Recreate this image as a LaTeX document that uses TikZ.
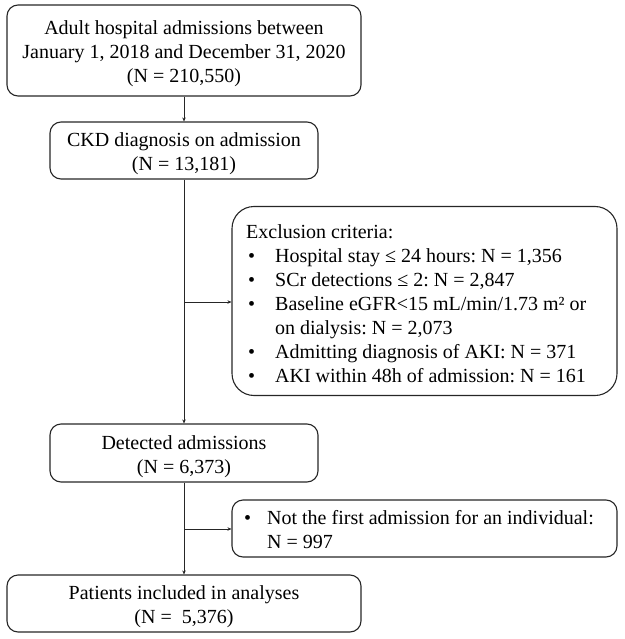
\documentclass[tikz,border=0pt]{standalone}
\usepackage{fontspec}
\setmainfont{Liberation Serif}
\usetikzlibrary{arrows.meta}
\frenchspacing
\newcommand{\bulitem}{\hspace*{2pt}\makebox[27pt][l]{•}}
\newcommand{\contitem}{\hspace*{29pt}}
\newcommand{\boxlines}[2][-3pt]{\raisebox{#1}[\height][\depth]{\begin{tabular}{@{}c@{}}#2\end{tabular}}}
\begin{document}
\begin{tikzpicture}[x=1pt,y=-1pt,
  flowbox/.style={draw=black!85, line width=1.1pt, rounded corners=11pt, inner sep=0pt,
    font=\fontsize{20}{24}\selectfont},
  sidetext/.style={inner sep=0pt, align=left, anchor=north west, font=\fontsize{20}{24}\selectfont},
  conn/.style={draw=black!85, line width=1pt},
  arr/.style={conn, -{Stealth[length=4pt,width=3.5pt]}}]
\useasboundingbox (0,0) rectangle (624,639);
\node[flowbox, minimum width=354pt, minimum height=91pt] (b1) at (184,50.5)
  {\boxlines[-3pt]{Adult hospital admissions between\\January 1, 2018 and December 31, 2020\\(N = 210,550)}};
\node[flowbox, minimum width=268pt, minimum height=57pt] (b2) at (184,150.5)
  {\boxlines[-3pt]{CKD diagnosis on admission\\(N = 13,181)}};
\node[flowbox, minimum width=385pt, minimum height=189pt, rounded corners=22pt] (ex1) at (424.5,301) {};
\node[sidetext] (ex1t) at (246,224)
  {Exclusion criteria:\\
   \bulitem Hospital stay ≤ 24 hours: N = 1,356\\
   \bulitem SCr detections ≤ 2: N = 2,847\\
   \bulitem Baseline eGFR<15 mL/min/1.73 m² or\\
   \contitem on dialysis: N = 2,073\\
   \bulitem Admitting diagnosis of AKI: N = 371\\
   \bulitem AKI within 48h of admission: N = 161};
\node[flowbox, minimum width=268pt, minimum height=58pt] (b3) at (184,453)
  {\boxlines[-4pt]{Detected admissions\\(N = 6,373)}};
\node[flowbox, minimum width=385pt, minimum height=57pt] (ex2) at (424.5,528.5) {};
\node[sidetext] (ex2t) at (242,510)
  {\hspace*{2pt}\makebox[23pt][l]{•}Not the first admission for an individual:\\
   \hspace*{25pt}N = 997};
\node[flowbox, minimum width=354pt, minimum height=57pt] (b4) at (184,603.5)
  {\boxlines[-3pt]{Patients included in analyses\\(N =\ \ 5,376)}};
\coordinate (j1) at (184,302);
\coordinate (j2) at (184,529);
\draw[arr] (b1.south) -- (b2.north);
\draw[arr] (b2.south) -- (b3.north);
\draw[arr] (j1) -- (j1 -| ex1.west);
\draw[arr] (b3.south) -- (b4.north);
\draw[arr] (j2) -- (j2 -| ex2.west);
\end{tikzpicture}
\end{document}
